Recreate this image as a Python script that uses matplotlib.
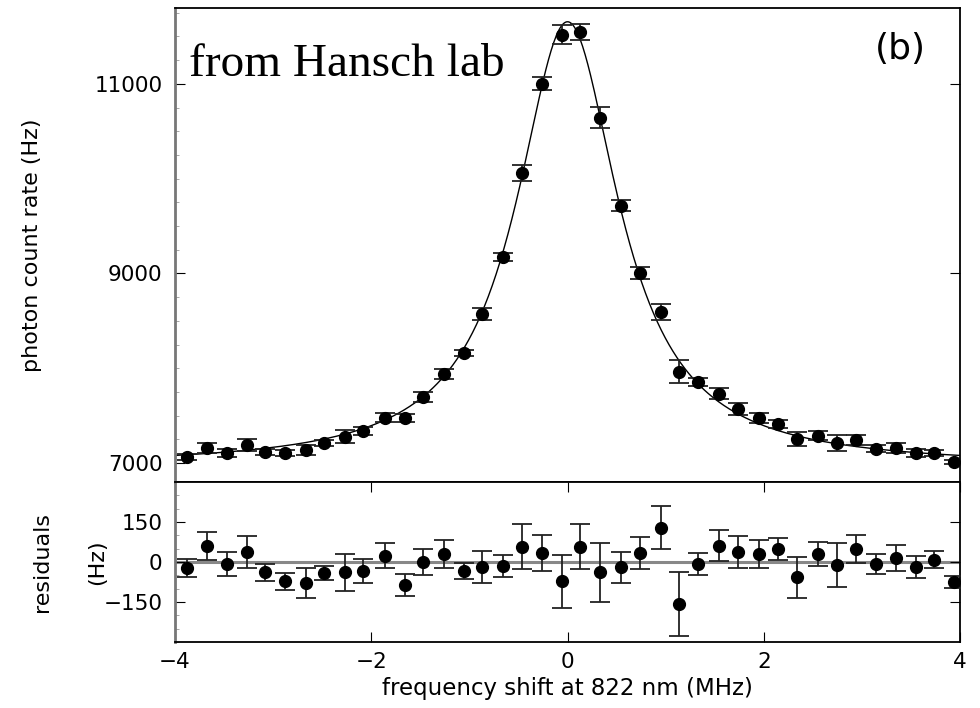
import numpy as np
import matplotlib
matplotlib.use("Agg")
import matplotlib.pyplot as plt
from matplotlib.ticker import MultipleLocator

# frequency shift at 822 nm (MHz)
freq = [-3.88, -3.67, -3.47, -3.27, -3.08, -2.88, -2.67, -2.48, -2.27, -2.08,
        -1.86, -1.66, -1.47, -1.26, -1.06, -0.87, -0.66, -0.46, -0.26, -0.06,
        0.13, 0.33, 0.54, 0.74, 0.95, 1.14, 1.33, 1.54, 1.74, 1.95,
        2.14, 2.34, 2.55, 2.75, 2.94, 3.14, 3.35, 3.55, 3.74, 3.94]

# photon count rate (Hz)
rate = [7065, 7160, 7107, 7191, 7118, 7110, 7139, 7212, 7276, 7339,
        7476, 7476, 7698, 7940, 8162, 8573, 9175, 10061, 11000, 11517,
        11550, 10641, 9713, 9006, 8595, 7962, 7856, 7730, 7572, 7476,
        7413, 7255, 7287, 7212, 7244, 7149, 7160, 7107, 7107, 7012]

# residuals (Hz)
resid = [-23, 61, -8, 38, -38, -72, -80, -42, -38, -34,
         23, -87, 1, 30, -34, -19, -15, 57, 34, -72,
         57, -38, -19, 34, 129, -156, -8, 61, 38, 30,
         49, -57, 30, -11, 49, -8, 15, -19, 8, -76]

# error bars (Hz), same for both panels
err = [33, 53, 46, 59, 32, 32, 56, 27, 69, 44,
       47, 42, 49, 51, 31, 61, 40, 84, 68, 99,
       84, 111, 58, 61, 81, 120, 41, 59, 61, 51,
       41, 77, 46, 84, 53, 37, 49, 41, 32, 22]

# Lorentzian fit parameters
fit_center = 0.0
fit_gamma = 0.635
fit_amp = 4690
fit_offset = 6965

xs = np.linspace(-4, 4, 600)
fit = fit_offset + fit_amp * fit_gamma**2 / ((xs - fit_center)**2 + fit_gamma**2)

plt.rcParams['font.family'] = 'DejaVu Sans'

fig = plt.figure(figsize=(9.8, 7.08), dpi=100)
ax1 = fig.add_axes([0.1786, 0.3192, 0.801, 0.6695])
ax2 = fig.add_axes([0.1786, 0.0932, 0.801, 0.2260])

# top panel
ax1.plot(xs, fit, color='black', lw=1.0, zorder=2)
ax1.errorbar(freq, rate, yerr=err, fmt='o', color='black', ms=8.5,
             ecolor='#222222', elinewidth=1.3, capsize=7, capthick=1.3, zorder=3)
ax1.set_xlim(-4, 4)
ax1.set_ylim(6800, 11800)
ax1.set_yticks([7000, 9000, 11000])
ax1.yaxis.set_minor_locator(MultipleLocator(250))
ax1.set_xticks([])
ax1.tick_params(axis='y', which='major', direction='in', right=True, labelsize=15.5,
                length=7, pad=9)
ax1.tick_params(axis='y', which='minor', direction='in', right=False, length=3, color='#999999')
ax1.set_ylabel('photon count rate (Hz)', fontsize=16)
ax1.yaxis.set_label_coords(-0.17, 0.5)

ax1.text(0.018, 0.88, 'from Hansch lab', transform=ax1.transAxes,
         family='Liberation Serif', fontsize=34, va='center', ha='left')
ax1.text(0.957, 0.913, '(b)', transform=ax1.transAxes,
         fontsize=26, va='center', ha='right')

# residual panel
ax2.axhline(0, color='#888888', lw=2.2, zorder=1)
ax2.errorbar(freq, resid, yerr=err, fmt='o', color='black', ms=8.5,
             ecolor='#222222', elinewidth=1.3, capsize=7, capthick=1.3, zorder=3)
ax2.set_xlim(-4, 4)
ax2.set_ylim(-300, 300)
ax2.set_yticks([-150, 0, 150])
ax2.set_yticklabels(['\u2212150', '0', '150'])
ax2.set_xticks([-4, -2, 0, 2, 4])
ax2.set_xticklabels(['\u22124', '\u22122', '0', '2', '4'])
ax2.yaxis.set_minor_locator(MultipleLocator(50))
ax2.tick_params(axis='both', which='major', direction='in', top=True, right=True,
                labelsize=15.5, length=7)
ax2.tick_params(axis='x', which='major', pad=7)
ax2.tick_params(axis='y', which='major', pad=9)
ax2.tick_params(axis='y', which='minor', direction='in', right=False, length=3, color='#999999')
ax2.set_xlabel('frequency shift at 822 nm (MHz)', fontsize=16.5, labelpad=4)

fig.text(0.043, 0.2062, 'residuals', rotation=90, fontsize=16, ha='center', va='center')
fig.text(0.099, 0.2062, '(Hz)', rotation=90, fontsize=16, ha='center', va='center')

for ax in (ax1, ax2):
    for s in ax.spines.values():
        s.set_linewidth(1.3)
    ax.spines['left'].set_color('#777777')
    ax.spines['left'].set_linewidth(2.0)

fig.savefig('out.png', dpi=100)
